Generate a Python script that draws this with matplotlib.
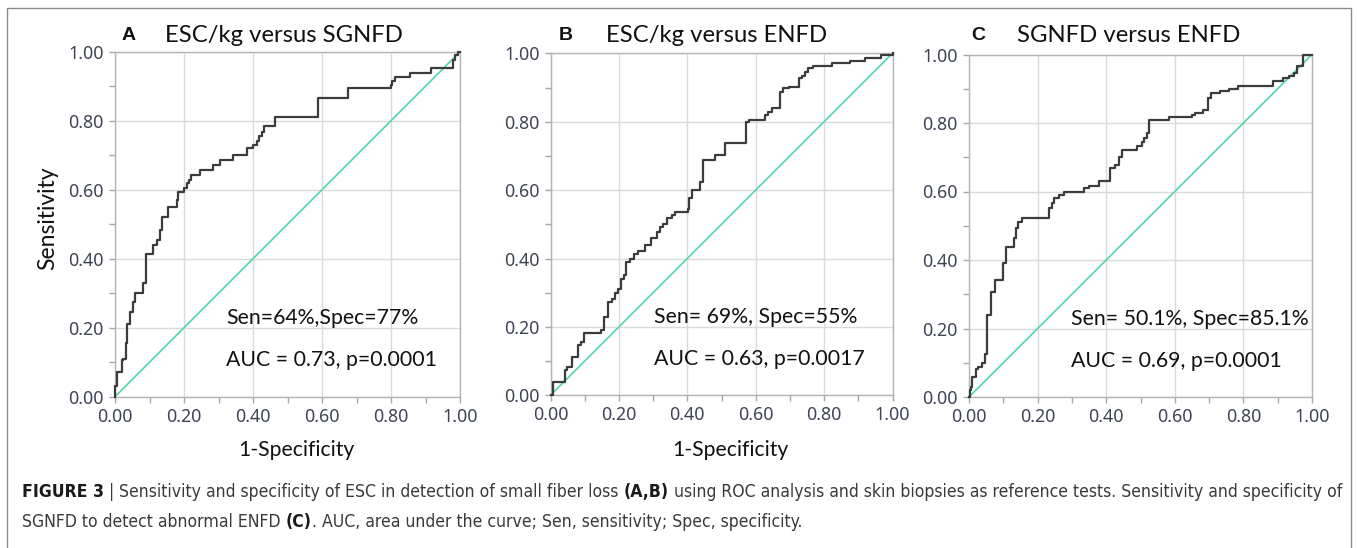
import matplotlib
matplotlib.use("Agg")
import matplotlib.pyplot as plt
from matplotlib.patches import Rectangle
from matplotlib.ticker import MultipleLocator

# ROC curve vertices (1-specificity, sensitivity)
a_fpr = [0, 0, 0.007, 0.021, 0.024, 0.031, 0.036, 0.043, 0.051, 0.058, 0.082, 0.09,
         0.111, 0.121, 0.13, 0.135, 0.155, 0.179, 0.184, 0.2, 0.208, 0.214, 0.22,
         0.246, 0.283, 0.304, 0.343, 0.384, 0.401, 0.411, 0.418, 0.425, 0.432, 0.464,
         0.589, 0.676, 0.80, 0.804, 0.812, 0.855, 0.915, 0.981, 0.986, 0.995, 1.0]
a_tpr = [0, 0.03, 0.072, 0.106, 0.11, 0.155, 0.21, 0.246, 0.275, 0.30, 0.33, 0.415,
         0.44, 0.454, 0.483, 0.52, 0.55, 0.57, 0.594, 0.604, 0.618, 0.628, 0.643,
         0.657, 0.671, 0.686, 0.702, 0.72, 0.73, 0.74, 0.755, 0.768, 0.785, 0.81,
         0.865, 0.894, 0.903, 0.915, 0.927, 0.937, 0.952, 0.976, 0.99, 1.0, 1.0]

b_fpr = [0, 0.008, 0.042, 0.049, 0.064, 0.081, 0.089, 0.099, 0.149, 0.157, 0.167,
         0.179, 0.188, 0.198, 0.206, 0.216, 0.222, 0.232, 0.245, 0.257, 0.276, 0.294,
         0.31, 0.32, 0.33, 0.34, 0.354, 0.364, 0.401, 0.405, 0.413, 0.437, 0.447,
         0.481, 0.51, 0.572, 0.579, 0.627, 0.637, 0.647, 0.671, 0.681, 0.696, 0.728,
         0.735, 0.744, 0.754, 0.767, 0.822, 0.876, 0.92, 0.967, 1.0]
b_tpr = [0, 0.039, 0.073, 0.083, 0.112, 0.146, 0.155, 0.183, 0.19, 0.229, 0.273,
         0.283, 0.298, 0.312, 0.341, 0.351, 0.39, 0.40, 0.412, 0.421, 0.439, 0.46,
         0.478, 0.493, 0.502, 0.517, 0.527, 0.537, 0.546, 0.576, 0.60, 0.624, 0.688,
         0.702, 0.737, 0.80, 0.805, 0.82, 0.829, 0.839, 0.888, 0.90, 0.902, 0.927,
         0.935, 0.946, 0.956, 0.963, 0.971, 0.978, 0.985, 0.995, 1.0]

c_fpr = [0, 0.002, 0.007, 0.01, 0.019, 0.026, 0.039, 0.046, 0.053, 0.063, 0.075,
         0.1, 0.109, 0.131, 0.136, 0.142, 0.155, 0.233, 0.242, 0.249, 0.262, 0.276,
         0.334, 0.349, 0.378, 0.412, 0.426, 0.436, 0.446, 0.489, 0.503, 0.51, 0.518,
         0.526, 0.584, 0.649, 0.659, 0.683, 0.698, 0.706, 0.732, 0.759, 0.785, 0.887,
         0.916, 0.934, 0.947, 0.957, 0.975, 1.0]
c_tpr = [0, 0.02, 0.03, 0.059, 0.083, 0.088, 0.098, 0.127, 0.239, 0.307, 0.341,
         0.39, 0.439, 0.463, 0.493, 0.512, 0.524, 0.551, 0.566, 0.58, 0.59, 0.60,
         0.61, 0.615, 0.631, 0.668, 0.678, 0.702, 0.722, 0.732, 0.745, 0.756, 0.77,
         0.81, 0.817, 0.824, 0.829, 0.839, 0.873, 0.887, 0.892, 0.90, 0.909, 0.924,
         0.931, 0.938, 0.946, 0.967, 1.0, 1.0]

letters = ["A", "B", "C"]
titles = ["ESC/kg versus SGNFD", "ESC/kg versus ENFD", "SGNFD versus ENFD"]
sen_text = ["Sen=64%,Spec=77%", "Sen= 69%, Spec=55%", "Sen= 50.1%, Spec=85.1%"]
auc_text = ["AUC = 0.73, p=0.0001", "AUC = 0.63, p=0.0017", "AUC = 0.69, p=0.0001"]
tick_vals = [0, 0.2, 0.4, 0.6, 0.8, 1.0]
tick_labels = ["0.00", "0.20", "0.40", "0.60", "0.80", "1.00"]

W, H = 1357, 548
fig = plt.figure(figsize=(W / 100, H / 100), dpi=100)

# axes boxes in pixels: left, top, width, height
boxes = [(115, 51.7, 345, 345), (550.5, 53.3, 342, 342), (969, 54.5, 343, 342.5)]
curves = [(a_fpr, a_tpr), (b_fpr, b_tpr), (c_fpr, c_tpr)]
text_x = [0.322, 0.303, 0.297]

tick_col = "#3f4455"
for i, (l, t, w, h) in enumerate(boxes):
    ax = fig.add_axes([l / W, 1 - (t + h) / H, w / W, h / H])
    ax.set_xlim(0, 1)
    ax.set_ylim(0, 1)
    ax.set_xticks(tick_vals)
    ax.set_yticks(tick_vals)
    ax.set_xticklabels(tick_labels)
    ax.set_yticklabels(tick_labels)
    ax.xaxis.set_minor_locator(MultipleLocator(0.1))
    ax.yaxis.set_minor_locator(MultipleLocator(0.1))
    ax.tick_params(which="both", direction="out", color="#a8a8a8", length=4, width=1)
    ax.tick_params(which="major", labelsize=12.8, labelcolor=tick_col, pad=4)
    for lab in ax.get_xticklabels() + ax.get_yticklabels():
        lab.set_fontfamily("Noto Sans")
    ax.grid(True, which="major", color="#dadada", lw=1)
    ax.set_axisbelow(True)
    for s in ax.spines.values():
        s.set_color("#b4b4b4")
        s.set_linewidth(1)

    ax.plot([0, 1], [0, 1], color="#4fd4b2", lw=1.2, zorder=2)
    fpr, tpr = curves[i]
    ax.plot(fpr, tpr, drawstyle="steps-post", color="#3c3c3c", lw=1.6,
            zorder=3, clip_on=False)

    ax.text(text_x[i], 0.228, sen_text[i], fontsize=15.3, family="Lato",
            va="center", ha="left", color="#111111")
    ax.text(text_x[i], 0.106, auc_text[i], fontsize=15.3, family="Lato",
            va="center", ha="left", color="#111111")

# panel titles
title_pos = [(129, 165), (566, 606), (978, 1017)]
for i, (lx, tx) in enumerate(title_pos):
    fig.text(lx / W, 1 - 35 / H, letters[i], fontsize=14, fontweight="bold",
             family="Liberation Sans", ha="center", va="center", color="#111111")
    fig.text(tx / W, 1 - 35 / H, titles[i], fontsize=17.2, family="Lato",
             ha="left", va="center", color="#111111")

# axis labels
fig.text(48 / W, 1 - 218 / H, "Sensitivity", rotation=90, fontsize=16.5, family="Lato",
         ha="center", va="center", color="#111111")
fig.text(296 / W, 1 - 450 / H, "1-Specificity", fontsize=15.2, family="Lato",
         ha="center", va="center", color="#111111")
fig.text(730 / W, 1 - 450 / H, "1-Specificity", fontsize=15.2, family="Lato",
         ha="center", va="center", color="#111111")

# outer frame
fig.patches.append(Rectangle((7 / W, -0.02), 1344 / W, 1 - 8 / H + 0.02,
                             transform=fig.transFigure, fill=False,
                             edgecolor="#8a8a8a", lw=1))

# caption with mixed bold pieces
cap = fig.add_axes([0, 0, 1, 1])
cap.axis("off")
cap_font = "DejaVu Sans"
cap_size = 12
lines = [
    [("FIGURE 3", True), (" | ", False),
     ("Sensitivity and specificity of ESC in detection of small fiber loss ", False),
     ("(A,B)", True),
     (" using ROC analysis and skin biopsies as reference tests. Sensitivity and specificity of", False)],
    [("SGNFD to detect abnormal ENFD ", False), ("(C)", True),
     (". AUC, area under the curve; Sen, sensitivity; Spec, specificity.", False)],
]
line_y = [1 - 497 / H, 1 - 527 / H]
cap_texts = []
first_line = []
for n, (pieces, y) in enumerate(zip(lines, line_y)):
    prev = None
    for txt, bold in pieces:
        kw = dict(fontsize=cap_size, family=cap_font, fontstretch="condensed",
                  fontweight="bold" if bold else "normal",
                  color="#1a1a1a" if bold else "#3a3a3a", ha="left", va="bottom")
        if prev is None:
            kw["va"] = "baseline"
            prev = cap.text(22 / W, y, txt, transform=fig.transFigure, **kw)
        else:
            prev = cap.annotate(txt, xy=(1, 0), xycoords=prev, **kw)
        cap_texts.append(prev)
        if n == 0:
            first_line.append(prev)

# scale the caption font so the first line spans the frame width
fig.canvas.draw()
r = fig.canvas.get_renderer()
x0 = first_line[0].get_window_extent(r).x0
x1 = first_line[-1].get_window_extent(r).x1
scale = (1345 - 22) / (x1 - x0)
for t in cap_texts:
    t.set_fontsize(cap_size * scale)

fig.savefig("out.png", dpi=100)
